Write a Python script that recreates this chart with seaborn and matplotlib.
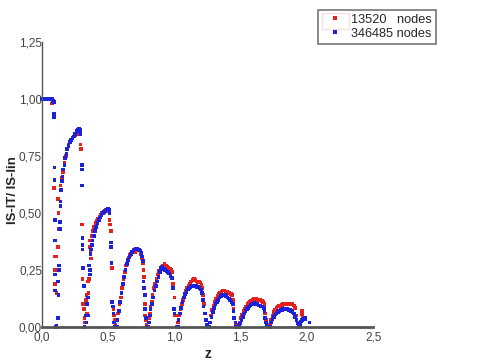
import numpy as np
import pandas as pd
import matplotlib
matplotlib.use("Agg")
import matplotlib.pyplot as plt
import matplotlib.patches as mpatches
from matplotlib.lines import Line2D
import seaborn as sns

sns.set_style("white")
plt.rcParams['font.family'] = ['Liberation Sans', 'DejaVu Sans']

# ============================================================
# Dados (z, razao)
# ============================================================
z_13520 = [0.0, 0.01, 0.02, 0.03, 0.04, 0.05, 0.06, 0.07, 0.075,
           0.09, 0.095, 0.10, 0.10, 0.11, 0.12, 0.125, 0.125, 0.12, 0.11,
           0.14, 0.15, 0.16, 0.17, 0.18, 0.19, 0.20, 0.21, 0.22, 0.23, 0.24, 0.25, 0.26, 0.27, 0.28, 0.285,
           0.29, 0.295, 0.30, 0.305,
           0.31, 0.315, 0.32, 0.325, 0.33, 0.335, 0.34, 0.345, 0.35, 0.355, 0.36, 0.36, 0.365, 0.37,
           0.375, 0.385, 0.395, 0.405, 0.415, 0.425, 0.435, 0.445, 0.455, 0.465, 0.475, 0.485, 0.495, 0.505,
           0.51, 0.515, 0.52, 0.525, 0.53, 0.54, 0.545, 0.55, 0.555,
           0.56, 0.565, 0.575, 0.585, 0.595, 0.605, 0.615, 0.625, 0.635, 0.645, 0.655, 0.665, 0.675, 0.685,
           0.695, 0.705, 0.715, 0.725, 0.735, 0.745, 0.755, 0.76, 0.765, 0.77, 0.775, 0.78, 0.785, 0.79,
           0.80, 0.81, 0.815, 0.82, 0.83, 0.835, 0.845, 0.855, 0.865, 0.875, 0.885, 0.895, 0.905, 0.915,
           0.925, 0.935, 0.945, 0.955, 0.965, 0.975, 0.98, 0.99, 1.0, 1.005,
           1.02, 1.025, 1.035, 1.045, 1.055, 1.065, 1.075, 1.085, 1.095, 1.105, 1.115, 1.125, 1.135, 1.145,
           1.155, 1.165, 1.175, 1.185, 1.195, 1.205, 1.21, 1.215, 1.225, 1.235, 1.24,
           1.255, 1.265, 1.275, 1.285, 1.295, 1.305, 1.315, 1.325, 1.335, 1.345, 1.355, 1.365, 1.375, 1.385,
           1.395, 1.405, 1.415, 1.425, 1.435, 1.44, 1.445, 1.45, 1.46, 1.47,
           1.48, 1.49, 1.50, 1.51, 1.52, 1.53, 1.54, 1.55, 1.56, 1.57, 1.58, 1.59, 1.60, 1.61, 1.62, 1.63,
           1.64, 1.65, 1.66, 1.67, 1.68, 1.685, 1.69,
           1.71, 1.72, 1.73, 1.74, 1.75, 1.76, 1.77, 1.78, 1.79, 1.80, 1.81, 1.82, 1.83, 1.84, 1.85, 1.86,
           1.87, 1.88, 1.89, 1.90, 1.91, 1.92, 1.93,
           1.965, 1.965, 1.97]
r_13520 = [1.0, 1.0, 1.0, 1.0, 1.0, 1.0, 1.0, 1.0, 0.98,
           0.61, 0.31, 0.25, 0.19, 0.15, 0.56, 0.50, 0.43, 0.35, 0.31,
           0.62, 0.655, 0.68, 0.72, 0.75, 0.78, 0.80, 0.81, 0.82, 0.83, 0.835, 0.84, 0.845, 0.845, 0.845, 0.85,
           0.80, 0.78, 0.45, 0.21,
           0.10, 0.08, 0.04, 0.02, 0.12, 0.14, 0.06, 0.20, 0.15, 0.21, 0.35, 0.38, 0.33, 0.30,
           0.40, 0.42, 0.44, 0.455, 0.465, 0.475, 0.485, 0.49, 0.50, 0.505, 0.51, 0.515, 0.515, 0.51,
           0.47, 0.45, 0.42, 0.35, 0.26, 0.08, 0.05, 0.03, 0.01,
           0.0, 0.03, 0.06, 0.10, 0.13, 0.17, 0.21, 0.24, 0.27, 0.29, 0.305, 0.315, 0.325, 0.33,
           0.34, 0.33, 0.335, 0.34, 0.335, 0.32, 0.30, 0.28, 0.25, 0.22, 0.10, 0.05, 0.03, 0.01,
           0.0, 0.04, 0.06, 0.09, 0.11, 0.14, 0.17, 0.19, 0.21, 0.23, 0.245, 0.255, 0.265, 0.27,
           0.275, 0.27, 0.265, 0.26, 0.255, 0.25, 0.24, 0.19, 0.13, 0.05,
           0.0, 0.02, 0.05, 0.08, 0.10, 0.12, 0.14, 0.16, 0.17, 0.18, 0.19, 0.20, 0.205, 0.21,
           0.205, 0.20, 0.195, 0.20, 0.195, 0.185, 0.17, 0.14, 0.10, 0.06, 0.03,
           0.0, 0.02, 0.05, 0.075, 0.095, 0.11, 0.125, 0.135, 0.145, 0.15, 0.155, 0.16, 0.16, 0.155,
           0.155, 0.15, 0.15, 0.145, 0.14, 0.12, 0.08, 0.04, 0.015, 0.01,
           0.0, 0.02, 0.04, 0.055, 0.07, 0.08, 0.09, 0.10, 0.105, 0.11, 0.115, 0.12, 0.125, 0.12, 0.125, 0.12,
           0.12, 0.12, 0.115, 0.11, 0.10, 0.06, 0.03,
           0.0, 0.01, 0.03, 0.05, 0.065, 0.075, 0.085, 0.09, 0.093, 0.095, 0.097, 0.10, 0.10, 0.10, 0.10, 0.10,
           0.10, 0.10, 0.10, 0.095, 0.085, 0.05, 0.02,
           0.07, 0.055, 0.04]

z_346485 = [0.0, 0.01, 0.02, 0.03, 0.04, 0.05, 0.06, 0.07, 0.08, 0.085, 0.09,
            0.09, 0.09,
            0.095, 0.095, 0.10, 0.10, 0.10, 0.10, 0.105, 0.11, 0.12, 0.12, 0.125, 0.13, 0.13, 0.135, 0.135,
            0.14, 0.14, 0.145,
            0.15, 0.155, 0.16, 0.17, 0.175, 0.185, 0.19, 0.20, 0.21, 0.22, 0.23, 0.24, 0.25, 0.26, 0.265,
            0.27, 0.275, 0.28, 0.285, 0.29, 0.29,
            0.30, 0.30, 0.30, 0.305, 0.305, 0.305,
            0.31, 0.315, 0.32, 0.33, 0.335, 0.34, 0.345, 0.35, 0.355, 0.36, 0.36,
            0.365, 0.37, 0.375, 0.38, 0.39, 0.40, 0.41, 0.42, 0.43, 0.44, 0.45, 0.46, 0.47, 0.48, 0.49,
            0.50, 0.505, 0.51,
            0.52, 0.52, 0.525, 0.53, 0.535, 0.54, 0.545, 0.55,
            0.565, 0.57, 0.58, 0.59, 0.60, 0.61, 0.62, 0.63, 0.64, 0.65, 0.66, 0.67, 0.68, 0.69, 0.70,
            0.71, 0.72, 0.73, 0.74, 0.75, 0.755, 0.76, 0.765, 0.77, 0.775, 0.78, 0.785, 0.79,
            0.805, 0.81, 0.815, 0.82, 0.83, 0.84, 0.85, 0.86, 0.87, 0.88, 0.89, 0.895, 0.90, 0.91, 0.92,
            0.93, 0.94, 0.95, 0.96, 0.97, 0.98, 0.99, 0.995, 1.0,
            1.025, 1.03, 1.04, 1.05, 1.06, 1.07, 1.08, 1.09, 1.10, 1.11, 1.12, 1.13, 1.14, 1.15, 1.16,
            1.17, 1.18, 1.19, 1.20, 1.21, 1.215, 1.22, 1.23, 1.24, 1.245,
            1.26, 1.27, 1.28, 1.29, 1.30, 1.31, 1.32, 1.33, 1.34, 1.35, 1.36, 1.37, 1.38, 1.39, 1.40,
            1.41, 1.42, 1.43, 1.44, 1.445, 1.45, 1.46, 1.465,
            1.49, 1.495, 1.505, 1.515, 1.525, 1.535, 1.545, 1.555, 1.565, 1.575, 1.585, 1.595, 1.605,
            1.615, 1.625, 1.635, 1.645, 1.655, 1.665, 1.675, 1.68, 1.685, 1.69, 1.695,
            1.72, 1.73, 1.74, 1.75, 1.76, 1.77, 1.78, 1.79, 1.80, 1.81, 1.82, 1.83, 1.84, 1.85, 1.86,
            1.87, 1.88, 1.89, 1.90, 1.91, 1.92, 1.93, 1.935,
            1.945, 1.955, 1.965, 1.975, 1.985, 1.99, 2.02]
r_346485 = [1.0, 1.0, 1.0, 1.0, 1.0, 1.0, 1.0, 1.0, 1.0, 0.99, 0.985,
            0.935, 0.92,
            0.70, 0.645, 0.47, 0.38, 0.23, 0.16, 0.0, 0.005, 0.04, 0.20, 0.14, 0.27, 0.25, 0.46, 0.43,
            0.55, 0.53, 0.60,
            0.64, 0.66, 0.69, 0.71, 0.74, 0.76, 0.78, 0.795, 0.81, 0.82, 0.83, 0.835, 0.845, 0.855, 0.86,
            0.865, 0.87, 0.87, 0.865, 0.855, 0.845,
            0.71, 0.69, 0.62, 0.39, 0.36, 0.34,
            0.26, 0.18, 0.0, 0.05, 0.02, 0.10, 0.13, 0.05, 0.27, 0.25, 0.23,
            0.32, 0.34, 0.36, 0.38, 0.40, 0.42, 0.44, 0.455, 0.47, 0.48, 0.49, 0.50, 0.505, 0.51, 0.515,
            0.52, 0.515, 0.50,
            0.37, 0.35, 0.28, 0.11, 0.09, 0.06, 0.02, 0.0,
            0.0, 0.03, 0.07, 0.11, 0.15, 0.19, 0.22, 0.25, 0.275, 0.295, 0.31, 0.32, 0.33, 0.335, 0.34,
            0.345, 0.345, 0.34, 0.335, 0.325, 0.31, 0.29, 0.20, 0.17, 0.14, 0.08, 0.04, 0.0,
            0.0, 0.02, 0.05, 0.08, 0.10, 0.13, 0.16, 0.18, 0.20, 0.22, 0.24, 0.255, 0.26, 0.265, 0.255,
            0.25, 0.245, 0.24, 0.235, 0.225, 0.215, 0.17, 0.08, 0.06,
            0.0, 0.03, 0.06, 0.085, 0.11, 0.13, 0.145, 0.155, 0.165, 0.17, 0.175, 0.18, 0.18, 0.18, 0.18,
            0.175, 0.175, 0.17, 0.165, 0.15, 0.12, 0.09, 0.06, 0.03, 0.01,
            0.0, 0.02, 0.045, 0.065, 0.085, 0.10, 0.11, 0.12, 0.13, 0.135, 0.14, 0.14, 0.14, 0.135, 0.13,
            0.125, 0.12, 0.11, 0.10, 0.07, 0.04, 0.02, 0.0,
            0.0, 0.015, 0.03, 0.045, 0.06, 0.07, 0.08, 0.085, 0.09, 0.095, 0.10, 0.10, 0.105,
            0.10, 0.10, 0.095, 0.095, 0.09, 0.09, 0.085, 0.07, 0.04, 0.02, 0.005,
            0.0, 0.02, 0.035, 0.045, 0.055, 0.06, 0.065, 0.07, 0.075, 0.075, 0.08, 0.08, 0.08, 0.078, 0.075,
            0.075, 0.07, 0.065, 0.06, 0.045, 0.03, 0.015, 0.0,
            0.01, 0.025, 0.03, 0.035, 0.04, 0.035, 0.02]

rotulos = ["13520   nodes", "346485 nodes"]
cores = ["#e8201c", "#1c22dc"]

df = pd.concat([
    pd.DataFrame({"z": z_13520, "razao": r_13520, "malha": rotulos[0]}),
    pd.DataFrame({"z": z_346485, "razao": r_346485, "malha": rotulos[1]}),
], ignore_index=True)

# ============================================================
# Grafico
# ============================================================
fig = plt.figure(figsize=(4.8, 3.61), dpi=100)
ax = fig.add_axes([0.0875, 0.094, 0.69, 0.79])

sns.scatterplot(data=df, x="z", y="razao", hue="malha", hue_order=rotulos,
                palette=cores, marker="s", s=7, linewidth=0, legend=False,
                clip_on=False, ax=ax)

ax.set_xlim(0, 2.5)
ax.set_ylim(0, 1.25)
ax.set_xticks([0, 0.5, 1.0, 1.5, 2.0, 2.5])
ax.set_xticklabels(["0,0", "0,5", "1,0", "1,5", "2,0", "2,5"])
ax.set_yticks([0, 0.25, 0.5, 0.75, 1.0, 1.25])
ax.set_yticklabels(["0,00", "0,25", "0,50", "0,75", "1,00", "1,25"])
ax.tick_params(length=0, labelsize=8.5, colors="#444444")
ax.tick_params(axis="y", pad=0)
ax.tick_params(axis="x", pad=3)

for s in ["top", "right"]:
    ax.spines[s].set_visible(False)
ax.spines["left"].set_color("#555555")
ax.spines["left"].set_linewidth(1.0)
ax.spines["bottom"].set_color("#555555")
ax.spines["bottom"].set_linewidth(2.0)

ax.set_xlabel("z", fontsize=10, fontweight="bold", labelpad=3)
ax.set_ylabel("IS-IT/ IS-Iin", fontsize=9.5, fontweight="bold")
ax.yaxis.set_label_coords(-0.07, 0.48)

handles = [Line2D([], [], marker="s", linestyle="", markersize=2.2, color=c, markeredgewidth=0)
           for c in cores]
leg = fig.legend(handles, rotulos, loc="upper left", bbox_to_anchor=(0.6625, 0.972),
                 fontsize=9.2, frameon=True, fancybox=False, borderpad=0.3,
                 handlelength=2.0, handletextpad=0.3, labelspacing=0.15, borderaxespad=0)
leg.get_frame().set_edgecolor("#555555")
leg.get_frame().set_linewidth(1.2)

# destaque vermelho em volta do marcador da primeira serie
fig.patches.append(mpatches.Rectangle((322 / 480, 1 - 29 / 361), 27 / 480, 16 / 361,
                                      transform=fig.transFigure, fill=False,
                                      edgecolor="#e06060", linewidth=1.0))

plt.savefig("out.png", dpi=100)
plt.close()
